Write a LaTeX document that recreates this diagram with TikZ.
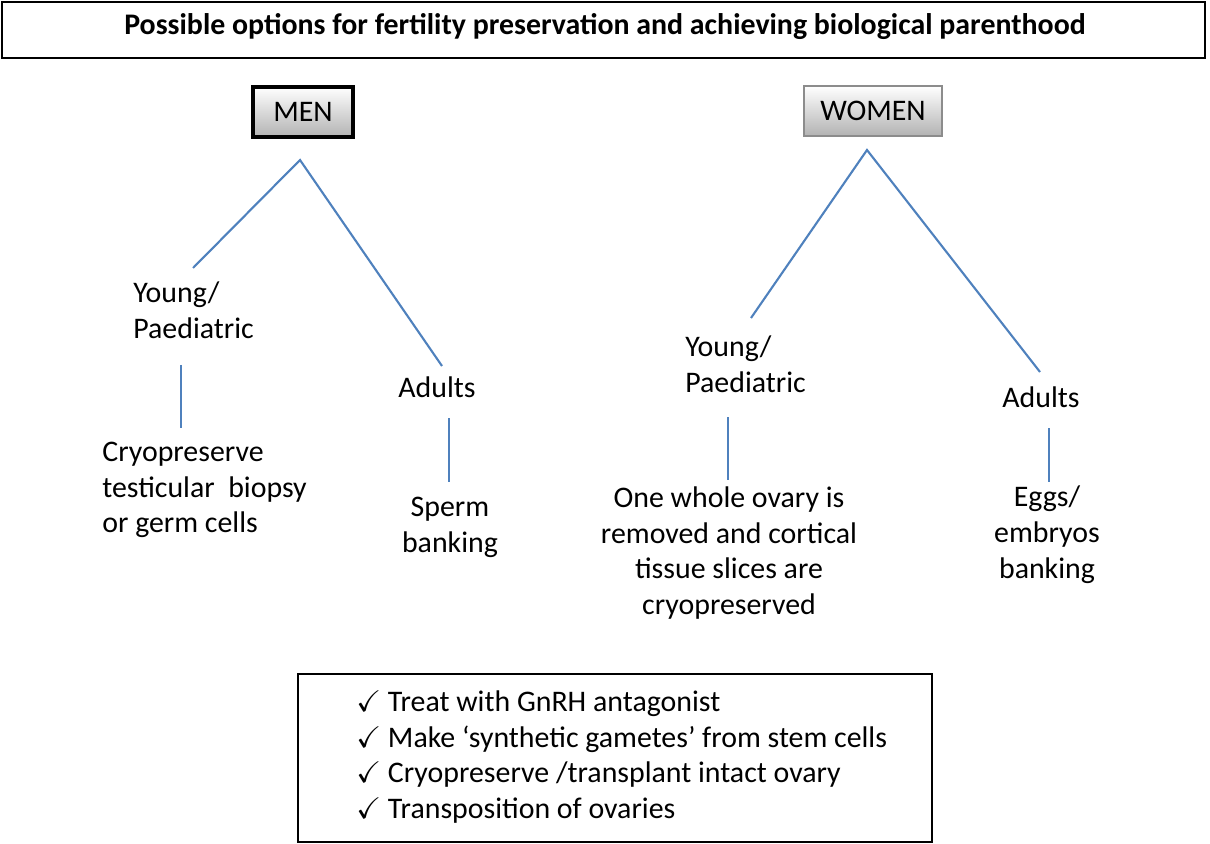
\documentclass[tikz,border=0pt]{standalone}
\usepackage{fontspec}
\usepackage{amssymb}
\setmainfont{Carlito}
\definecolor{branchblue}{RGB}{79,129,189}
\tikzset{
  link/.style={draw=branchblue, line width=1.2pt},
  txt/.style={font=\fontsize{17}{20.4}\selectfont, align=center, inner sep=0pt},
  txtl/.style={txt, align=left, anchor=west},
  sexbox/.style={txt, draw, minimum width=#1, minimum height=1cm, top color=white, bottom color=black!30},
}
\begin{document}
\begin{tikzpicture}[x=0.02cm, y=-0.02cm]
  \useasboundingbox (0,0) rectangle (1210,844);
  % title
  \draw[line width=0.6pt] (2,2) rectangle (1205,58);
  \node[txt, font=\bfseries\fontsize{17}{20}\selectfont] (title) at (605,27) {Possible options for fertility preservation and achieving biological parenthood};
  % men
  \node[sexbox=2cm, line width=1.8pt] (men) at (303,112) {MEN};
  \coordinate (mtop) at (300,160);
  \coordinate (myl) at (193,268);
  \coordinate (mal) at (442,366);
  \draw[link] (myl) -- (mtop) -- (mal);
  \node[txtl] (myoung) at (133,310) {Young/\\Paediatric};
  \node[txt] (madult) at (437,387) {Adults};
  \coordinate (m1a) at (181,365); \coordinate (m1b) at (181,428);
  \draw[link] (m1a) -- (m1b);
  \node[txtl] (mcryo) at (102,490) {Cryopreserve\\testicular\ \ biopsy\\or germ cells};
  \coordinate (m2a) at (449,418); \coordinate (m2b) at (449,482);
  \draw[link] (m2a) -- (m2b);
  \node[txt] (sperm) at (450,527) {Sperm\\banking};
  % women
  \node[sexbox=2.76cm, draw=black!45, line width=0.6pt] (women) at (873,111) {WOMEN};
  \coordinate (wtop) at (867,150);
  \coordinate (wyl) at (751,318);
  \coordinate (wal) at (1040,372);
  \draw[link] (wyl) -- (wtop) -- (wal);
  \node[txtl] (wyoung) at (685,364) {Young/\\Paediatric};
  \node[txt] (wadult) at (1041,397) {Adults};
  \coordinate (w1a) at (728,417); \coordinate (w1b) at (728,480);
  \draw[link] (w1a) -- (w1b);
  \node[txt] (ovary) at (729,553) {One whole ovary is\\removed and cortical\\tissue slices are\\cryopreserved};
  \coordinate (w2a) at (1049,428); \coordinate (w2b) at (1049,482);
  \draw[link] (w2a) -- (w2b);
  \node[txt] (eggs) at (1047,535) {Eggs/\\embryos\\banking};
  % other options
  \draw[line width=0.6pt] (298,674) rectangle (932,842);
  \node[txtl] (opts) at (356,757) {$\checkmark$\ Treat with GnRH antagonist\\$\checkmark$\ Make ‘synthetic gametes’ from stem cells\\$\checkmark$\ Cryopreserve /transplant intact ovary\\$\checkmark$\ Transposition of ovaries};
\end{tikzpicture}
\end{document}
